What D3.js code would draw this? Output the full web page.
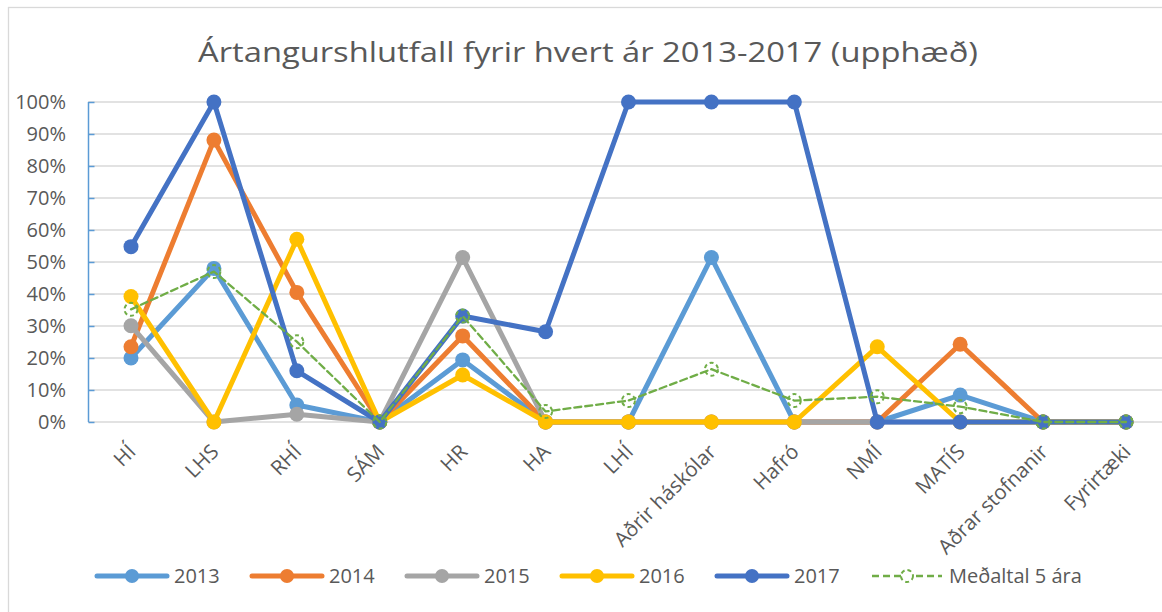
<!DOCTYPE html>
<html>
<head>
<meta charset="utf-8">
<script src="https://cdn.jsdelivr.net/npm/d3@7"></script>
<style>
  body { margin: 0; background: #fff; }
  text { font-family: "Open Sans", "Noto Sans", sans-serif; fill: #595959; }
</style>
</head>
<body>
<svg id="chart" width="1162" height="612"></svg>
<script>
// categories and series (share of total)
var categories = ["HÍ", "LHS", "RHÍ", "SÁM", "HR", "HA", "LHÍ", "Aðrir háskólar", "Hafró", "NMÍ", "MATÍS", "Aðrar stofnanir", "Fyrirtæki"];
var s2013 = [0.200, 0.480, 0.053, 0, 0.194, 0, 0, 0.514, 0, 0, 0.084, 0, 0];
var s2014 = [0.235, 0.881, 0.405, 0, 0.269, 0, 0, 0, 0, 0, 0.243, 0, 0];
var s2015 = [0.301, 0, 0.024, 0, 0.514, 0, 0, 0, 0, 0, 0, 0, 0];
var s2016 = [0.392, 0, 0.571, 0, 0.147, 0, 0, 0, 0, 0.235, 0, 0, 0];
var s2017 = [0.548, 1.0, 0.160, 0, 0.331, 0.282, 1.0, 1.0, 1.0, 0, 0, 0, 0];
var sAvg  = [0.352, 0.470, 0.251, 0, 0.331, 0.033, 0.067, 0.165, 0.067, 0.079, 0.048, 0, 0];
var seriesNames = ["2013", "2014", "2015", "2016", "2017", "Meðaltal 5 ára"];
var yTicks = [0, 0.1, 0.2, 0.3, 0.4, 0.5, 0.6, 0.7, 0.8, 0.9, 1.0];

var colors = ["#5B9BD5", "#ED7D31", "#A5A5A5", "#FFC000", "#4472C4", "#70AD47"];
var allSeries = [s2013, s2014, s2015, s2016, s2017, sAvg];

var svg = d3.select("#chart");

// chart border
svg.append("rect")
  .attr("x", 8.5).attr("y", 7.5)
  .attr("width", 1200).attr("height", 640)
  .attr("fill", "none").attr("stroke", "#D9D9D9").attr("stroke-width", 1.3);

var x = d3.scalePoint().domain(categories).range([131, 1126]);
var y = d3.scaleLinear().domain([0, 1]).range([422, 102]);

// title
svg.append("text")
  .attr("x", 588).attr("y", 62)
  .attr("text-anchor", "middle")
  .style("font-size", "28px")
  .attr("textLength", 780)
  .attr("lengthAdjust", "spacingAndGlyphs")
  .text("Ártangurshlutfall fyrir hvert ár 2013-2017 (upphæð)");

// gridlines
svg.append("g").selectAll("line")
  .data(yTicks)
  .enter().append("line")
  .attr("x1", 88).attr("x2", 1170)
  .attr("y1", function(d) { return y(d); })
  .attr("y2", function(d) { return y(d); })
  .attr("stroke", "#D9D9D9").attr("stroke-width", 1.5);

// y axis
var yAxis = d3.axisRight(y)
  .tickValues(yTicks)
  .tickSize(6)
  .tickFormat("");
var gy = svg.append("g").attr("transform", "translate(88.5,0)").call(yAxis);
gy.select(".domain").attr("stroke", "#5B9BD5").attr("stroke-width", 1.5).attr("d", "M0," + y(1) + "V" + y(0));
gy.selectAll(".tick line").attr("stroke", "#5B9BD5").attr("stroke-width", 1.5);

svg.append("g").selectAll("text")
  .data(yTicks)
  .enter().append("text")
  .attr("x", 66)
  .attr("y", function(d) { return y(d) + 7; })
  .attr("text-anchor", "end")
  .style("font-size", "20px")
  .text(function(d) { return d3.format(".0%")(d); });

// x labels
svg.append("g").selectAll("text")
  .data(categories)
  .enter().append("text")
  .attr("text-anchor", "end")
  .style("font-size", "20.5px")
  .attr("transform", function(d) { return "translate(" + (x(d) + 6) + ",453) rotate(-45)"; })
  .text(function(d) { return d; });

// lines
var line = d3.line()
  .x(function(d, i) { return x(categories[i]); })
  .y(function(d) { return y(d); });

allSeries.forEach(function(s, k) {
  var isAvg = k === 5;
  var g = svg.append("g");
  g.append("path")
    .attr("d", line(s))
    .attr("fill", "none")
    .attr("stroke", colors[k])
    .attr("stroke-width", isAvg ? 2.3 : 5)
    .attr("stroke-linejoin", "round")
    .attr("stroke-linecap", "round")
    .attr("stroke-dasharray", isAvg ? "7,4" : null);
  g.selectAll("circle")
    .data(s)
    .enter().append("circle")
    .attr("cx", function(d, i) { return x(categories[i]); })
    .attr("cy", function(d) { return y(d); })
    .attr("r", isAvg ? 6.5 : 7.5)
    .attr("fill", isAvg ? "none" : colors[k])
    .attr("stroke", colors[k])
    .attr("stroke-width", isAvg ? 2 : 0)
    .attr("stroke-dasharray", isAvg ? "4,3" : null);
});

// legend
var legendX = [97, 252, 407, 562, 717, 872];
var legendLen = 70;
var ly = 576;
seriesNames.forEach(function(name, k) {
  var isAvg = k === 5;
  var g = svg.append("g");
  g.append("line")
    .attr("x1", legendX[k]).attr("x2", legendX[k] + legendLen)
    .attr("y1", ly).attr("y2", ly)
    .attr("stroke", colors[k])
    .attr("stroke-width", isAvg ? 2.3 : 5)
    .attr("stroke-linecap", isAvg ? "butt" : "round")
    .attr("stroke-dasharray", isAvg ? "7,4" : null);
  g.append("circle")
    .attr("cx", legendX[k] + legendLen / 2).attr("cy", ly)
    .attr("r", isAvg ? 6 : 7)
    .attr("fill", isAvg ? "#fff" : colors[k])
    .attr("stroke", colors[k])
    .attr("stroke-width", isAvg ? 2 : 0)
    .attr("stroke-dasharray", isAvg ? "4,3" : null);
  g.append("text")
    .attr("x", legendX[k] + legendLen + 7)
    .attr("y", ly + 7)
    .style("font-size", "20px")
    .text(name);
});
</script>
</body>
</html>
